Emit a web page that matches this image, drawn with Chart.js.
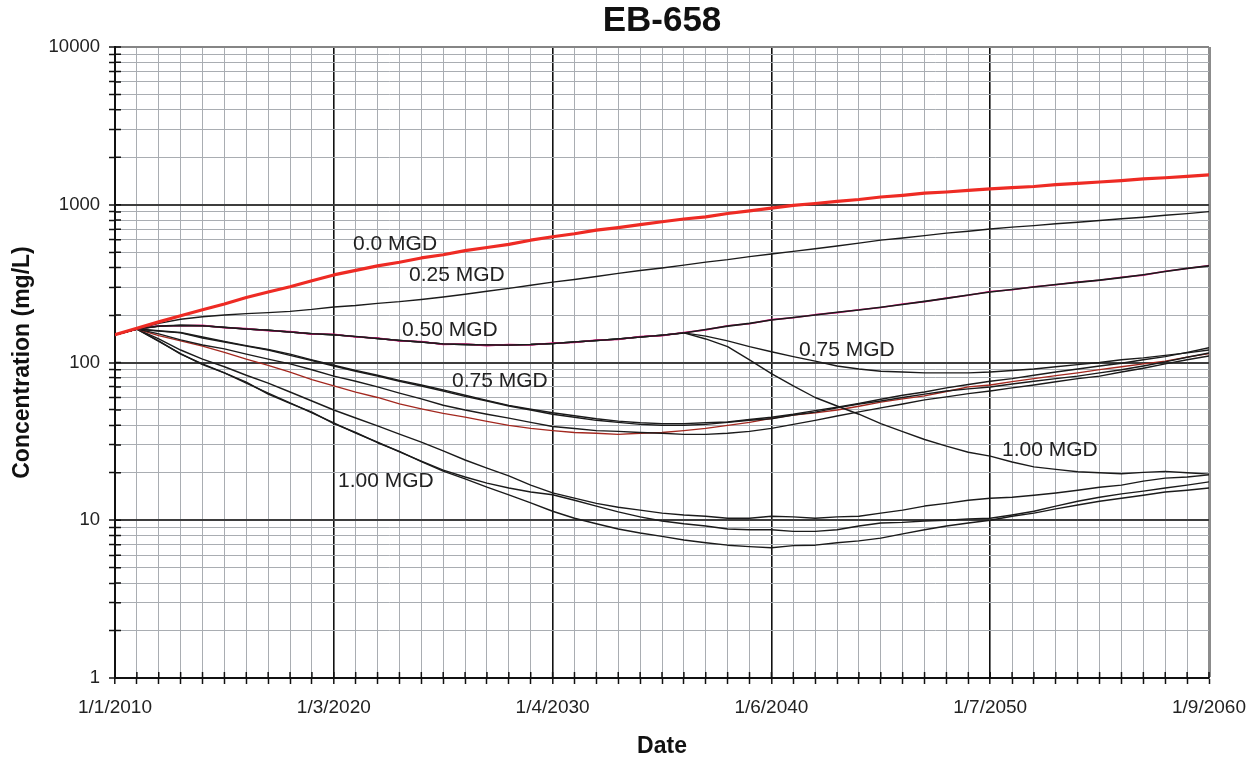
<!DOCTYPE html>
<html>
<head>
<meta charset="utf-8">
<title>EB-658</title>
<script src="https://cdn.jsdelivr.net/npm/chart.js@4.4.0/dist/chart.umd.min.js"></script>
<style>
  html, body { margin: 0; padding: 0; background: #ffffff; }
  #wrap { width: 1260px; height: 763px; }
</style>
</head>
<body>
<div id="wrap"><canvas id="c" width="1260" height="763"></canvas></div>
<script>
// Years since 1/1/2010 (one sample per year)
const years = [0,1,2,3,4,5,6,7,8,9,10,11,12,13,14,15,16,17,18,19,20,21,22,23,24,25,26,27,28,29,30,31,32,33,34,35,36,37,38,39,40,41,42,43,44,45,46,47,48,49,50];

// Axis tick labels
const dateLabels = ['1/1/2010', '1/3/2020', '1/4/2030', '1/6/2040', '1/7/2050', '1/9/2060'];
const concLabels = ['1', '10', '100', '1000', '10000'];

// Concentration (mg/L) per pumping scenario
const conc00 = [150,165,181,198,216,235,258,280,302,330,359,384,410,432,460,482,512,536,561,596,627,655,690,716,748,780,812,838,880,915,952,992,1018,1050,1080,1120,1148,1185,1205,1232,1259,1285,1305,1340,1367,1394,1422,1460,1483,1514,1548];
const conc025 = [150,163,177,188,195,200,204,207,211,217,225,230,237,243,251,260,271,283,295,309,323,336,351,367,383,397,414,433,449,469,487,506,526,548,571,597,616,637,661,679,702,721,737,758,775,795,816,834,858,879,905];
const conc050 = [150,163,170,172,171,167,163,160,156,152,150,146,142,138,135,131,130,129,129,130,132,135,138,141,145,149,154,162,170,177,186,193,200,208,215,224,233,244,255,268,280,290,301,312,322,333,345,360,377,395,410];
const conc050m = [150,163,171,171,172,166,164,159,157,151,151,145,143,137,136,130,131,128,130,129,133,134,139,140,146,148,155,161,171,176,187,192,201,207,216,223,235,243,256,267,282,289,302,311,324,332,347,358,379,394,412];
const conc050to075 = [150,163,170,172,171,167,163,160,156,152,150,146,142,138,135,131,130,129,129,130,132,135,138,141,145,149,154,147,137,126,117,109,102,95,91,88,87,86,86,86,87,89,91,94,97,100,104,107,111,115,120];
const conc050to100 = [150,163,170,172,171,167,163,160,156,152,150,146,142,138,135,131,130,129,129,130,132,135,138,141,145,149,154,141,126,104,85,71,60,53,47,41,36.5,32.5,29.5,27,25.5,23.4,21.8,21,20.3,20,19.7,20.1,20.4,20,19.6];
const conc075a = [150,163,158,154,143,135,127,120,111,103,95,88,82,76,71,66,61,57,53,50,47,45,43,41.7,40.5,40,40,40.5,41.7,43,44,46.5,48.5,51.6,54.6,57,60,63,66,68,70,73,76,79,82,86,90,95,101,108,115];
const conc075b = [150,163,159,155,145,136,128,121,113,104,96,89,83,77,72,67,62,57.5,53.5,50.5,48,46,44,42.5,41.5,41,41,41.5,42,43.5,45,47,49.5,52,55,58.5,62,65,69,72.5,76,79,83,87,91,95,99,104,109,116,124];
const conc075c = [150,163,152,139,129,122,113,105,98,90,82,76,70,64,58.8,53.6,50,47,44.4,41.7,39.3,38.2,37,36.6,36,35.6,35,35,35.6,36.6,38.2,40.5,43,45.8,48.6,51.6,54.6,58,60.5,63.5,66,69,72,75.5,79,82,87,92,98,104,110];
const conc075d = [150,163,148,137,127,116,105,96,87,78,71,65,60,54.6,50.8,47.6,45,42.4,40,38.2,37,36,35.6,35,35.6,36,37,38.2,40,41.7,44.3,46.4,48,50,52.8,56,58.8,61.5,65.5,70,72,75.6,79,82.5,86,90,94,98,102,108,114];
const conc100a = [150,163,141,120,105,94,83,74,65,57,50,44.5,39.6,35.2,31.3,27.5,24.1,21.4,19.1,16.7,14.9,13.8,12.8,12.1,11.6,11.1,10.8,10.6,10.3,10.3,10.6,10.5,10.3,10.5,10.6,11.1,11.6,12.3,12.8,13.4,13.8,14,14.4,14.9,15.5,16.2,16.7,17.7,18.5,18.8,19.4];
const conc100b = [150,163,137,113,98,86,74,64,55.4,47.9,41.4,35.7,31.3,27.1,23.7,20.8,18.8,17.2,16,15.1,14.5,13.4,12.3,11.3,10.5,9.9,9.5,9.2,8.8,8.7,8.7,8.5,8.5,8.7,9.2,9.6,9.7,9.9,10,10.2,10.3,10.8,11.4,12.3,13.2,14,14.7,15.3,16,16.7,17.5];
const conc100c = [150,163,136,114,97,86,75,63,55,48.5,41,36,31,27.3,23.5,20.5,18.3,16.2,14.5,12.9,11.4,10.3,9.5,8.8,8.3,7.9,7.5,7.2,6.95,6.8,6.7,6.9,6.95,7.2,7.4,7.7,8.2,8.7,9.2,9.6,10,10.6,11.1,11.8,12.5,13.2,13.8,14.4,15.1,15.5,16];

// Scenario labels placed in data coordinates (years, mg/L)
const scenarioNotes = [
  { text: '0.0 MGD',  t: 10.88, v: 564 },
  { text: '0.25 MGD', t: 13.44, v: 359 },
  { text: '0.50 MGD', t: 13.12, v: 161 },
  { text: '0.75 MGD', t: 15.40, v: 76.3 },
  { text: '1.00 MGD', t: 10.19, v: 17.7 },
  { text: '0.75 MGD', t: 31.26, v: 120 },
  { text: '1.00 MGD', t: 40.54, v: 27.9 }
];

const FONT = "'Liberation Sans', Arial, Helvetica, sans-serif";
const BLACK = '#1b1b1b';

function pts(arr) { return years.map((t, i) => ({ x: t, y: arr[i] })); }
function line(arr, color, width) {
  return { data: pts(arr), borderColor: color, borderWidth: width, pointRadius: 0,
           tension: 0, fill: false, borderJoinStyle: 'round', borderCapStyle: 'round' };
}

// First dataset is drawn on top
const datasets = [
  line(conc00, '#ee2b24', 3.2),
  line(conc050, BLACK, 1.6),
  line(conc050m, '#e5157f', 1.6),
  line(conc025, BLACK, 1.4),
  line(conc050to075, BLACK, 1.4),
  line(conc050to100, BLACK, 1.4),
  line(conc075a, BLACK, 1.4),
  line(conc075b, BLACK, 1.4),
  line(conc075c, BLACK, 1.4),
  line(conc075d, '#a3281f', 1.3),
  line(conc100a, BLACK, 1.4),
  line(conc100b, BLACK, 1.4),
  line(conc100c, BLACK, 1.4)
];

// Short tick marks on the inner side of both axes
const innerTicks = {
  id: 'innerTicks',
  beforeDatasetsDraw(chart) {
    const { ctx, chartArea: a, scales: { x, y } } = chart;
    ctx.save();
    ctx.strokeStyle = '#111';
    ctx.lineWidth = 1.5;
    ctx.beginPath();
    y.ticks.forEach(tk => {
      const py = y.getPixelForValue(tk.value);
      ctx.moveTo(a.left, py); ctx.lineTo(a.left + 6, py);
    });
    x.ticks.forEach(tk => {
      const px = x.getPixelForValue(tk.value);
      ctx.moveTo(px, a.bottom); ctx.lineTo(px, a.bottom - 6);
    });
    ctx.stroke();
    ctx.restore();
  }
};

// Scenario names written next to their curves
const notes = {
  id: 'notes',
  afterDatasetsDraw(chart) {
    const { ctx, scales: { x, y } } = chart;
    ctx.save();
    ctx.font = '21px ' + FONT;
    ctx.fillStyle = '#222';
    ctx.textAlign = 'left';
    ctx.textBaseline = 'middle';
    scenarioNotes.forEach(n => ctx.fillText(n.text, x.getPixelForValue(n.t), y.getPixelForValue(n.v)));
    ctx.restore();
  }
};

new Chart(document.getElementById('c'), {
  type: 'line',
  data: { datasets },
  plugins: [innerTicks, notes],
  options: {
    responsive: false,
    animation: false,
    events: [],
    layout: { padding: { left: 0, right: 51, top: 0, bottom: 0 } },
    plugins: {
      legend: { display: false },
      tooltip: { enabled: false },
      title: {
        display: true, text: 'EB-658', fullSize: false, color: '#111',
        font: { family: FONT, size: 35, weight: 'bold' },
        padding: { top: 0, bottom: 5 }
      }
    },
    scales: {
      x: {
        type: 'linear', min: 0, max: 50,
        afterBuildTicks: s => { s.ticks = years.map(v => ({ value: v })); },
        afterFit: s => { s.height = 85; },
        ticks: {
          autoSkip: false, maxRotation: 0, color: '#222', padding: 12,
          font: { family: FONT, size: 19 },
          callback: v => (v % 10 === 0 ? dateLabels[v / 10] : '')
        },
        grid: {
          color: c => {
            const v = c.tick ? c.tick.value : 0;
            if (v === 50) return '#8c8c8c';
            return v % 10 === 0 ? '#111' : '#a9adb2';
          },
          lineWidth: c => {
            const v = c.tick ? c.tick.value : 0;
            if (v === 50) return 3;
            return v % 10 === 0 ? 1.6 : 1;
          },
          tickColor: '#111', tickWidth: 1.5, tickLength: 6
        },
        border: { color: '#111', width: 2 },
        title: {
          display: true, text: 'Date', color: '#111',
          font: { family: FONT, size: 23, weight: 'bold' },
          padding: { top: 0, bottom: 3 }
        }
      },
      y: {
        type: 'logarithmic', min: 1, max: 10000,
        afterBuildTicks: s => {
          const list = [];
          for (let e = 0; e < 4; e++) {
            for (let m = 1; m < 10; m++) list.push({ value: m * Math.pow(10, e) });
          }
          list.push({ value: 10000 });
          s.ticks = list;
        },
        afterFit: s => { s.width = 115; },
        ticks: {
          autoSkip: false, color: '#222', padding: 9,
          font: { family: FONT, size: 18.5 },
          callback: v => {
            const e = Math.round(Math.log10(v));
            return Math.abs(v - Math.pow(10, e)) < 1e-6 ? concLabels[e] : '';
          }
        },
        grid: {
          color: c => {
            const v = c.tick ? c.tick.value : 1;
            const e = Math.log10(v);
            if (v === 10000) return '#858585';
            return Math.abs(e - Math.round(e)) < 1e-9 ? '#3d3d3d' : '#a9adb2';
          },
          lineWidth: c => {
            const v = c.tick ? c.tick.value : 1;
            const e = Math.log10(v);
            return Math.abs(e - Math.round(e)) < 1e-9 ? 2 : 1;
          },
          tickColor: '#111', tickWidth: 1.5, tickLength: 6
        },
        border: { color: '#111', width: 2 },
        title: {
          display: true, text: 'Concentration (mg/L)', color: '#111',
          font: { family: FONT, size: 23, weight: 'bold' },
          padding: { top: 9, bottom: 0 }
        }
      }
    }
  }
});
</script>
</body>
</html>
